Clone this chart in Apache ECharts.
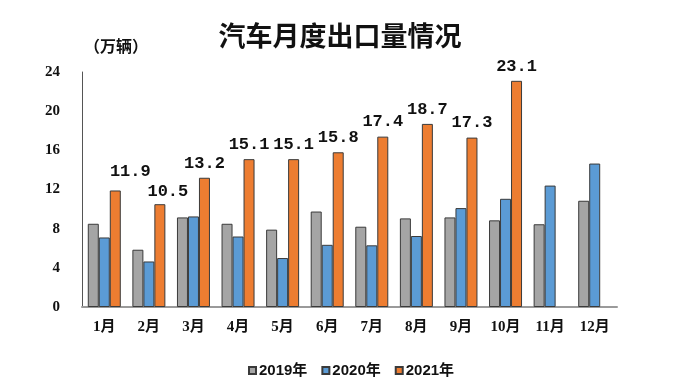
<!DOCTYPE html>
<html><head><meta charset="utf-8">
<script src="https://cdn.jsdelivr.net/npm/echarts@6/dist/echarts.min.js"></script>
<style>html,body{margin:0;padding:0;background:#fff}#c{width:680px;height:389px}</style>
</head><body><div id="c"></div>
<script>
const categories = ['1月','2月','3月','4月','5月','6月','7月','8月','9月','10月','11月','12月'];
const s2019 = [8.5, 5.85, 9.15, 8.5, 7.9, 9.75, 8.2, 9.05, 9.15, 8.85, 8.45, 10.85];
const s2020 = [7.1, 4.65, 9.25, 7.2, 5.0, 6.35, 6.3, 7.25, 10.1, 11.05, 12.4, 14.65];
const s2021 = [11.9, 10.5, 13.2, 15.1, 15.1, 15.8, 17.4, 18.7, 17.3, 23.1];
const seriesNames = ['2019年','2020年','2021年'];
const yTicks = [0, 4, 8, 12, 16, 20, 24];

const labelOffsets = {0: [15, -4], 1: [8, 2]};
const chart = echarts.init(document.getElementById('c'));
const border = {borderColor: '#3a3a3a', borderWidth: 1};
chart.setOption({
  animation: false,
  backgroundColor: '#fff',
  title: {text: '汽车月度出口量情况', left: 335, textAlign: 'center', top: 17,
    textStyle: {fontFamily: 'Noto Sans CJK SC', fontWeight: 'bold', fontSize: 27, color: '#111'}},
  graphic: [{type: 'text', left: 84, top: 38, style: {text: '（万辆）', fontFamily: 'Noto Sans CJK SC', fontWeight: 'bold', fontSize: 16, fill: '#111'}}],
  legend: {bottom: 6, left: 243, itemWidth: 7, itemHeight: 7, itemGap: 14,
    icon: 'rect',
    textStyle: {fontFamily: 'Liberation Sans, Noto Sans CJK SC', fontWeight: 'bold', fontSize: 15, color: '#111', padding: [0,0,0,-2]},
    data: seriesNames},
  grid: {left: 82, right: 63, top: 72, bottom: 82},
  xAxis: {type: 'category', data: categories,
    axisLine: {lineStyle: {color: '#9a9a9a', width: 2}}, axisTick: {show: false},
    axisLabel: {margin: 13, fontFamily: 'Liberation Serif, Noto Sans CJK SC', fontWeight: 'bold', fontSize: 15, color: '#111'}},
  yAxis: {type: 'value', min: yTicks[0], max: yTicks[yTicks.length-1], interval: 4,
    splitLine: {show: false},
    axisLine: {show: true, lineStyle: {color: '#555', width: 1}}, axisTick: {show: false},
    axisLabel: {margin: 22, fontFamily: 'Liberation Serif', fontWeight: 'bold', fontSize: 15, color: '#111'}},
  series: [
    {name: seriesNames[0], type: 'bar', data: s2019, barGap: '0%', barCategoryGap: '26%',
      itemStyle: Object.assign({color: '#a5a5a5'}, border)},
    {name: seriesNames[1], type: 'bar', data: s2020, barGap: '0%', barCategoryGap: '26%',
      itemStyle: Object.assign({color: '#5b9bd5'}, border)},
    {name: seriesNames[2], type: 'bar', barGap: '0%', barCategoryGap: '26%',
      data: s2021.map((v, i) => labelOffsets[i] ? {value: v, label: {offset: labelOffsets[i]}} : v),
      itemStyle: Object.assign({color: '#ed7d31'}, border),
      label: {show: true, position: 'top', distance: 6, fontFamily: 'Liberation Mono', fontWeight: 'bold', fontSize: 17, color: '#111'}}
  ]
});
</script></body></html>
